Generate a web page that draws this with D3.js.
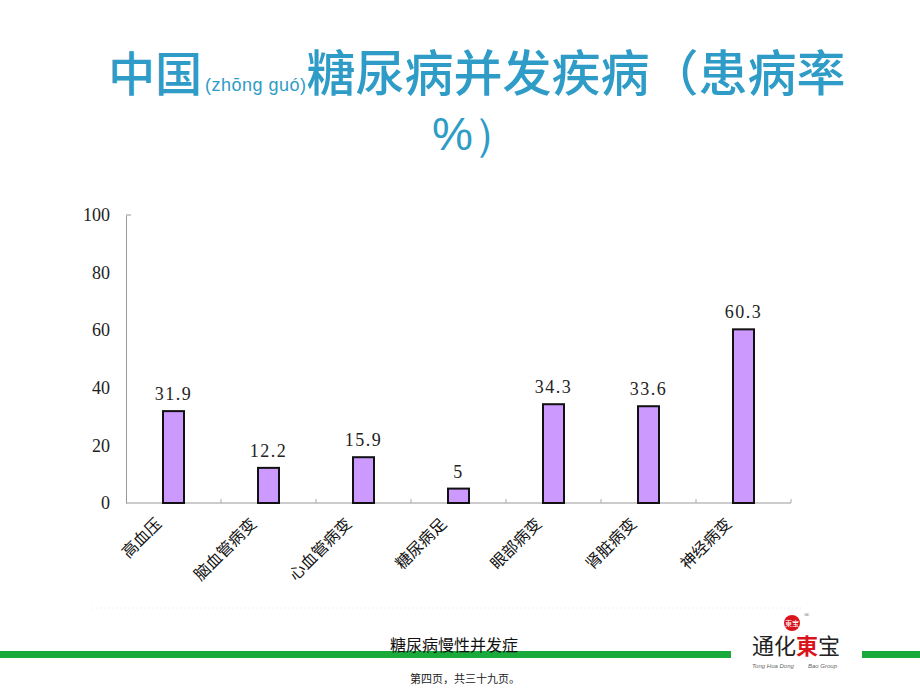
<!DOCTYPE html>
<html><head><meta charset="utf-8">
<script src="https://cdn.jsdelivr.net/npm/d3@7/dist/d3.min.js"></script>
<style>
html,body{margin:0;padding:0;background:#fff;}
svg{display:block;}
</style></head>
<body>
<svg id="chart" width="920" height="690"></svg>
<script>
const categories = ["高血压","脑血管病变","心血管病变","糖尿病足","眼部病变","肾脏病变","神经病变"];
const values = [31.9, 12.2, 15.9, 5, 34.3, 33.6, 60.3];
const valueLabels = ["31.9","12.2","15.9","5","34.3","33.6","60.3"];
const yTicks = [0, 20, 40, 60, 80, 100];

const svg = d3.select("#chart");
const plotLeft = 126, plotRight = 791, plotTop = 215, plotBottom = 503;

const x = d3.scaleBand().domain(categories).range([plotLeft, plotRight]).paddingInner(0).paddingOuter(0);
const y = d3.scaleLinear().domain([0, 100]).range([plotBottom, plotTop]);

// Title
const titleColor = "#2e9cc6";
const t1 = svg.append("text").attr("x", 108).attr("y", 91)
  .attr("fill", titleColor).attr("font-family", "'Noto Sans CJK SC', sans-serif").attr("font-weight", 500);
t1.append("tspan").attr("font-size", 47).text("中国");
t1.append("tspan").attr("font-size", 18).attr("font-weight", 400).attr("font-family", "'Liberation Sans Narrow', 'Liberation Sans', sans-serif")
  .attr("letter-spacing", 0.5).attr("dx", 3).text("(zhōng guó)");
t1.append("tspan").attr("font-size", 49).attr("dx", 0).text("糖尿病并发疾病（患病率");
svg.append("text").attr("x", 432).attr("y", 150)
  .attr("fill", titleColor).attr("font-family", "'Liberation Sans Narrow', 'Liberation Sans', sans-serif")
  .attr("font-size", 46).text("%）");

// Y axis
const yAxis = d3.axisLeft(y).tickValues(yTicks).tickSize(0).tickPadding(16);
const gy = svg.append("g").attr("transform", `translate(${plotLeft},0)`).call(yAxis);
gy.select(".domain").attr("stroke", "#999").attr("stroke-width", 1);
gy.selectAll("text").attr("font-family", "'Liberation Serif', serif").attr("font-size", 18).attr("fill", "#222");
svg.append("line").attr("x1", plotLeft).attr("x2", plotLeft + 5).attr("y1", y(100)).attr("y2", y(100)).attr("stroke", "#999");

// X axis line and ticks
svg.append("line").attr("x1", plotLeft).attr("x2", plotRight).attr("y1", plotBottom).attr("y2", plotBottom)
  .attr("stroke", "#999").attr("stroke-width", 1.2);
const bounds = categories.map(c => x(c)).concat([plotRight]).slice(1);
svg.selectAll(".xt").data(bounds).enter().append("line")
  .attr("x1", d => d).attr("x2", d => d).attr("y1", plotBottom).attr("y2", plotBottom - 4)
  .attr("stroke", "#aaa");

// Bars
const bw = 21;
svg.selectAll(".bar").data(values).enter().append("rect")
  .attr("x", (d, i) => x(categories[i]) + x.bandwidth() / 2 - bw / 2)
  .attr("y", d => y(d))
  .attr("width", bw)
  .attr("height", d => y(0) - y(d))
  .attr("fill", "#cc99ff").attr("stroke", "#111").attr("stroke-width", 2);

// Value labels
svg.selectAll(".vl").data(values).enter().append("text")
  .attr("x", (d, i) => x(categories[i]) + x.bandwidth() / 2)
  .attr("y", d => y(d) - 11)
  .attr("text-anchor", "middle")
  .attr("font-family", "'Liberation Serif', serif").attr("font-size", 18)
  .attr("letter-spacing", 1.5).attr("fill", "#222")
  .text((d, i) => valueLabels[i]);

// Category labels
svg.selectAll(".cl").data(categories).enter().append("text")
  .attr("transform", d => `translate(${x(d) + x.bandwidth() / 2 - 16},${plotBottom + 17}) rotate(-45)`)
  .attr("text-anchor", "end")
  .attr("dominant-baseline", "central")
  .attr("font-family", "'Noto Sans CJK SC', sans-serif").attr("font-size", 16)
  .attr("fill", "#111")
  .text(d => d);

// faint dotted separator
svg.append("line").attr("x1", 92).attr("x2", 804).attr("y1", 608).attr("y2", 608)
  .attr("stroke", "#dfe8e8").attr("stroke-dasharray", "1,3");

// Footer
const green = "#1aaa3c";
svg.append("rect").attr("x", 0).attr("y", 651).attr("width", 731).attr("height", 7).attr("fill", green);
svg.append("rect").attr("x", 862).attr("y", 651).attr("width", 58).attr("height", 7).attr("fill", green);
svg.append("text").attr("x", 390).attr("y", 651).attr("font-family", "'Noto Sans CJK SC', sans-serif")
  .attr("font-size", 16).attr("fill", "#111").text("糖尿病慢性并发症");
svg.append("text").attr("x", 410).attr("y", 683).attr("font-family", "'Noto Sans CJK SC', sans-serif")
  .attr("font-size", 11).attr("fill", "#222").text("第四页，共三十九页。");

// Logo
const lg = svg.append("g");
lg.append("rect").attr("x", 746).attr("y", 630).attr("width", 100).attr("height", 40).attr("fill", "#fff");
lg.append("circle").attr("cx", 792).attr("cy", 623).attr("r", 8).attr("fill", "#d9141c");
lg.append("text").attr("x", 792).attr("y", 626).attr("text-anchor", "middle").attr("font-size", 7)
  .attr("fill", "#fff").attr("font-family", "'Noto Sans CJK SC', sans-serif").text("東宝");
lg.append("text").attr("x", 804).attr("y", 617).attr("font-size", 7).attr("fill", "#555").text("®");
const lt = lg.append("text").attr("x", 752).attr("y", 654).attr("font-family", "'Noto Sans CJK SC', sans-serif")
  .attr("font-size", 22).attr("fill", "#222");
lt.append("tspan").text("通化");
lt.append("tspan").attr("fill", "#d9141c").attr("font-weight", "bold").text("東");
lt.append("tspan").text("宝");
lg.append("text").attr("x", 752).attr("y", 668).attr("font-family", "'Liberation Sans', sans-serif")
  .attr("font-size", 6).attr("font-style", "italic").attr("fill", "#666").text("Tong Hua Dong");
lg.append("text").attr("x", 808).attr("y", 668).attr("font-family", "'Liberation Sans', sans-serif")
  .attr("font-size", 6).attr("font-style", "italic").attr("fill", "#666").text("Bao Group");
</script>
</body></html>
